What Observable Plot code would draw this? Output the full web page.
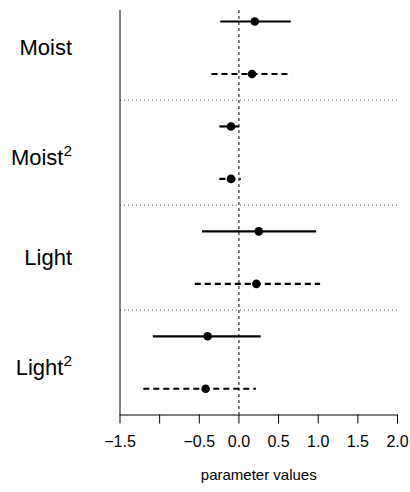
<!DOCTYPE html>
<html>
<head>
<meta charset="utf-8">
<script src="https://cdn.jsdelivr.net/npm/d3@7"></script>
<script src="https://cdn.jsdelivr.net/npm/@observablehq/plot@0.6"></script>
<style>
  html, body { margin: 0; padding: 0; background: #fff; }
</style>
</head>
<body>
<div id="chart"></div>
<script>
// ---- data ----
const terms = ["Moist", "Moist²", "Light", "Light²"];
const estSolid  = [0.20, -0.10, 0.25, -0.395];
const lowSolid  = [-0.23, -0.24, -0.46, -1.08];
const highSolid = [0.66, 0.01, 0.98, 0.28];
const estDashed  = [0.165, -0.10, 0.22, -0.42];
const lowDashed  = [-0.34, -0.24, -0.55, -1.20];
const highDashed = [0.67, 0.03, 1.03, 0.22];
const xTicks = [-1.5, -1.0, -0.5, 0.0, 0.5, 1.0, 1.5, 2.0];
const xDomain = [-1.5, 2.0];
const yDomain = [0.79, 8.5];
const separators = [2.5, 4.5, 6.5];
const axisLabel = "parameter values";

// ---- table ----
const rows = terms.flatMap((t, i) => [
  {term: t, row: 2 * i + 1, est: estSolid[i], low: lowSolid[i], high: highSolid[i], model: "solid"},
  {term: t, row: 2 * i + 2, est: estDashed[i], low: lowDashed[i], high: highDashed[i], model: "dashed"}
]);
const labels = terms.map((t, i) => ({term: t, row: 2 * i + 1.5, sup: t.endsWith("²")}));
const fmt = d3.format(".1f");
const labelOpts = {x: () => xDomain[0], y: "row", text: "term", textAnchor: "end", dx: -48, fontSize: 22, fill: "#000"};

const chart = Plot.plot({
  width: 410,
  height: 492,
  marginLeft: 119.5,
  marginRight: 13,
  marginTop: 10,
  marginBottom: 77.5,
  style: {fontFamily: "'Liberation Sans', Arial, Helvetica, sans-serif", background: "#fff", color: "#000"},
  x: {domain: xDomain, axis: null},
  y: {domain: yDomain, reverse: true, axis: null},
  marks: [
    Plot.ruleY(separators, {stroke: "#555", strokeWidth: 1, strokeDasharray: "1,3", strokeDashoffset: 3.5}),
    Plot.ruleX([0], {stroke: "#000", strokeWidth: 1, strokeDasharray: "3,3"}),
    Plot.ruleX([xDomain[0]], {stroke: "#000", strokeWidth: 1}),
    Plot.ruleY([yDomain[1]], {stroke: "#000", strokeWidth: 1}),
    Plot.ruleY(rows.filter(d => d.model === "solid"), {y: "row", x1: "low", x2: "high", stroke: "#000", strokeWidth: 2.2}),
    Plot.ruleY(rows.filter(d => d.model === "dashed"), {y: "row", x1: "low", x2: "high", stroke: "#000", strokeWidth: 2.2, strokeDasharray: "6,4"}),
    Plot.dot(rows, {x: "est", y: "row", r: 4.3, fill: "#000", stroke: "none"}),
    Plot.axisX({ticks: xTicks, tickFormat: d => (d === -1 ? "" : fmt(d)), tickSize: 9, tickPadding: 12, fontSize: 16, label: null}),
    Plot.text(labels.filter(d => !d.sup), labelOpts),
    Plot.text(labels.filter(d => d.sup), {...labelOpts, dy: 5}),
    Plot.text([axisLabel], {text: d => d, frameAnchor: "bottom", dy: 65, fontSize: 15, fill: "#000"})
  ]
});

// superscripts as real raised text
chart.querySelectorAll("text").forEach(t => {
  const s = t.textContent;
  if (s.endsWith("²") && t.children.length === 0) {
    t.textContent = s.slice(0, -1);
    const ts = document.createElementNS("http://www.w3.org/2000/svg", "tspan");
    ts.setAttribute("font-size", "15.4");
    ts.setAttribute("dy", "-9");
    ts.textContent = "2";
    t.appendChild(ts);
  }
});

document.getElementById("chart").appendChild(chart);
</script>
</body>
</html>
